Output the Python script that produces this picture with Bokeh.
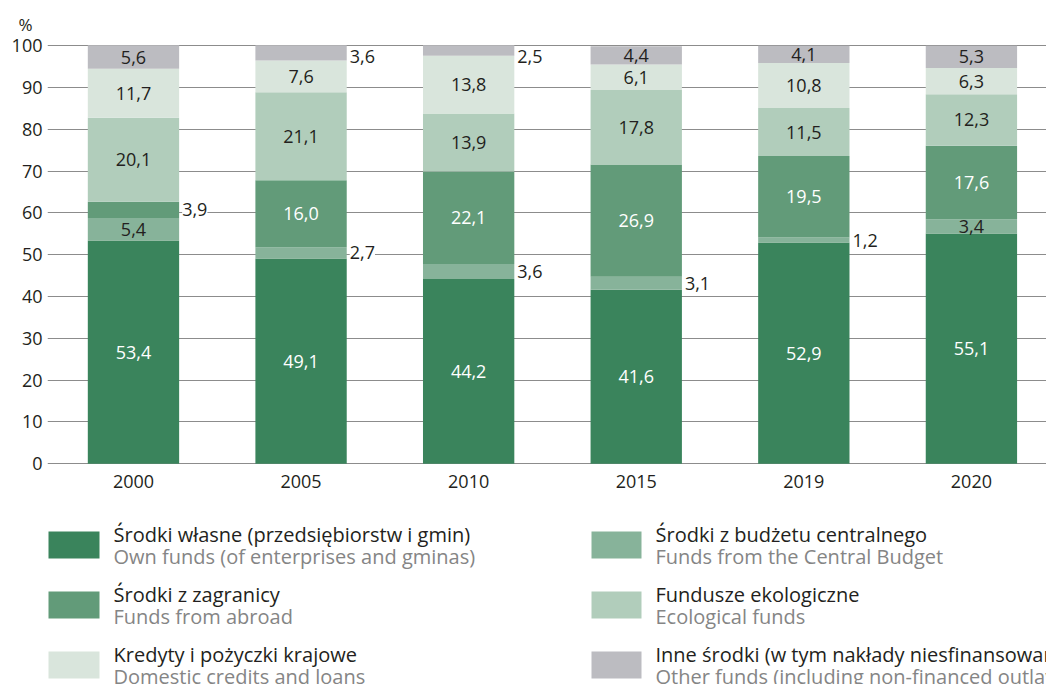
from bokeh.plotting import figure
from bokeh.models import ColumnDataSource, Range1d, FixedTicker, LabelSet
from bokeh.layouts import column
from bokeh.core.properties import value, field
from bokeh.embed import file_html
from bokeh.resources import INLINE

# ---------------- data ----------------
years = ["2000", "2005", "2010", "2015", "2019", "2020"]
own_funds = [53.4, 49.1, 44.2, 41.6, 52.9, 55.1]
central_budget = [5.4, 2.7, 3.6, 3.1, 1.2, 3.4]
funds_abroad = [3.9, 16.0, 22.1, 26.9, 19.5, 17.6]
ecological_funds = [20.1, 21.1, 13.9, 17.8, 11.5, 12.3]
domestic_credits = [11.7, 7.6, 13.8, 6.1, 10.8, 6.3]
other_funds = [5.6, 3.6, 2.5, 4.4, 4.1, 5.3]

series_keys = ["own", "central", "abroad", "eco", "credits", "other"]
series_values = [own_funds, central_budget, funds_abroad, ecological_funds,
                 domestic_credits, other_funds]
labels_pl = ["Środki własne (przedsiębiorstw i gmin)",
             "Środki z budżetu centralnego",
             "Środki z zagranicy",
             "Fundusze ekologiczne",
             "Kredyty i pożyczki krajowe",
             "Inne środki (w tym nakłady niesfinansowane)"]
labels_en = ["Own funds (of enterprises and gminas)",
             "Funds from the Central Budget",
             "Funds from abroad",
             "Ecological funds",
             "Domestic credits and loans",
             "Other funds (including non-financed outlays)"]
y_ticks = [0, 10, 20, 30, 40, 50, 60, 70, 80, 90, 100]
unit_label = "%"

# ---------------- style ----------------
colors = ["#3a845c", "#87b39a", "#629b79", "#b1cdbb", "#d9e5dc", "#bcbcc1"]
label_colors = ["white", "#231f20", "white", "#231f20", "#231f20", "#231f20"]
# labels placed to the right of the bar (series index, year index)
outside = {(2, 0), (1, 1), (5, 1), (1, 2), (5, 2), (1, 3), (1, 4)}
FONT = "Open Sans"
TXT = "#231f20"
W = 1046
LEFT = 47
BAR_W = 0.545

# ---------------- chart ----------------
x = list(range(len(years)))
data = {"x": x}
for k, v in zip(series_keys, series_values):
    data[k] = v
src = ColumnDataSource(data)

p = figure(width=W, height=500, output_backend="svg", toolbar_location=None,
           x_range=Range1d(-0.513, 5.448), y_range=Range1d(-0.2, 100.3),
           min_border_left=LEFT, min_border_right=0, min_border_top=44,
           min_border_bottom=36, title=unit_label)
p.outline_line_color = None
p.title.align = "left"
p.title.offset = -29
p.title.text_font = FONT
p.title.text_font_size = "17px"
p.title.text_font_style = "normal"
p.title.text_color = TXT
p.title.standoff = 17

p.xgrid.visible = False
p.ygrid.ticker = FixedTicker(ticks=y_ticks)
p.ygrid.grid_line_color = "#8c8c8c"
p.ygrid.grid_line_width = 1.2

p.vbar_stack(series_keys, x="x", width=BAR_W, color=colors, line_color=None,
             source=src)

p.xaxis.ticker = FixedTicker(ticks=x)
p.xaxis.major_label_overrides = {i: y for i, y in enumerate(years)}
p.yaxis.ticker = FixedTicker(ticks=y_ticks)
for ax in (p.xaxis[0], p.yaxis[0]):
    ax.axis_line_color = None
    ax.major_tick_line_color = None
    ax.minor_tick_line_color = None
    ax.major_tick_out = 0
    ax.major_tick_in = 0
    ax.minor_tick_out = 0
    ax.major_label_text_font = FONT
    ax.major_label_text_font_size = "18px"
    ax.major_label_text_color = TXT
p.xaxis.major_label_standoff = 10
p.yaxis.major_label_standoff = 5

# value labels
ins = {"x": [], "y": [], "t": [], "c": []}
outs = {"x": [], "y": [], "t": []}
cum = [0.0] * len(years)
for si, vals in enumerate(series_values):
    for yi, v in enumerate(vals):
        mid = cum[yi] + v / 2
        cum[yi] += v
        txt = f"{v:.1f}".replace(".", ",")
        if (si, yi) in outside:
            outs["x"].append(yi + BAR_W / 2)
            outs["y"].append(min(mid, 97.4))
            outs["t"].append(txt)
        else:
            ins["x"].append(yi)
            ins["y"].append(mid)
            ins["t"].append(txt)
            ins["c"].append(label_colors[si])

p.add_layout(LabelSet(x="x", y="y", text="t", source=ColumnDataSource(ins),
                      text_color=field("c"), text_align="center",
                      text_baseline="middle", text_font=value(FONT),
                      text_font_size="18px"))
p.add_layout(LabelSet(x="x", y="y", text="t", source=ColumnDataSource(outs),
                      x_offset=3, text_color=TXT, text_align="left",
                      text_baseline="middle", text_font=value(FONT),
                      text_font_size="18px", background_fill_color="white"))

# ---------------- legend ----------------
lg = figure(width=W, height=184, output_backend="svg", toolbar_location=None,
            x_range=Range1d(LEFT, W), y_range=Range1d(684, 500),
            min_border_left=LEFT, min_border_right=0, min_border_top=0,
            min_border_bottom=0, x_axis_location=None, y_axis_location=None)
lg.outline_line_color = None
lg.grid.visible = False

order_cols = [0, 1, 0, 1, 0, 1]       # own, central, abroad, eco, credits, other
order_rows = [0, 0, 1, 1, 2, 2]
col_sw_left = [48, 591]
col_sw_right = [99, 641]
col_txt = [113, 655]
row_top = [531, 591, 651]

sw = {"l": [], "r": [], "t": [], "b": [], "c": []}
tx = {"x": [], "y": [], "t": [], "c": []}
for i in range(len(series_keys)):
    c, r = order_cols[i], order_rows[i]
    sw["l"].append(col_sw_left[c]); sw["r"].append(col_sw_right[c])
    sw["t"].append(row_top[r]); sw["b"].append(row_top[r] + 27)
    sw["c"].append(colors[i])
    tx["x"] += [col_txt[c], col_txt[c]]
    tx["y"] += [row_top[r] + 3, row_top[r] + 25]
    tx["t"] += [labels_pl[i], labels_en[i]]
    tx["c"] += [TXT, "#858585"]

lg.quad(left="l", right="r", top="t", bottom="b", color="c", line_color=None,
        source=ColumnDataSource(sw))
lg.text(x="x", y="y", text="t", text_color="c", text_baseline="alphabetic",
        text_align="left", text_font=value(FONT), text_font_size=value("20px"),
        source=ColumnDataSource(tx))

layout = column(p, lg, spacing=0)
open("out.html", "w").write(file_html(layout, INLINE))
